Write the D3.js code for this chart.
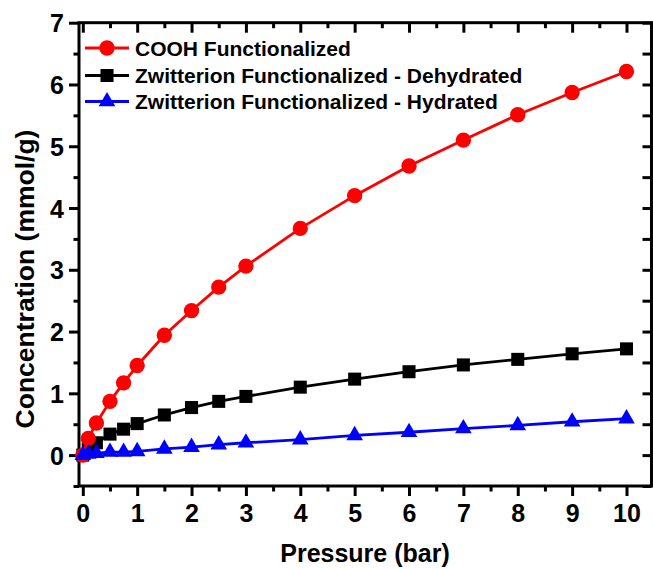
<!DOCTYPE html>
<html>
<head>
<meta charset="utf-8">
<script src="https://cdn.jsdelivr.net/npm/d3@7"></script>
<style>
  html, body { margin: 0; padding: 0; background: #fff; }
  svg { display: block; }
  text { font-family: "Liberation Sans", Arial, sans-serif; font-weight: bold; fill: #000; }
</style>
</head>
<body>
<svg id="chart" width="653" height="569"></svg>
<script>
// Adsorption isotherms: concentration vs pressure
const pressure = [0, 0.1, 0.25, 0.5, 0.75, 1, 1.5, 2, 2.5, 3, 4, 5, 6, 7, 8, 9, 10];
const coohFunctionalized = [0, 0.27, 0.52, 0.87, 1.17, 1.45, 1.94, 2.34, 2.72, 3.06, 3.67, 4.20, 4.68, 5.10, 5.51, 5.87, 6.21];
const zwitterionDehydrated = [0, 0.10, 0.20, 0.34, 0.42, 0.51, 0.65, 0.77, 0.87, 0.95, 1.10, 1.23, 1.35, 1.46, 1.55, 1.64, 1.72];
const zwitterionHydrated = [0, 0.02, 0.03, 0.05, 0.05, 0.06, 0.10, 0.13, 0.17, 0.20, 0.25, 0.32, 0.37, 0.43, 0.48, 0.54, 0.59];

const seriesNames = [
  "COOH Functionalized",
  "Zwitterion Functionalized - Dehydrated",
  "Zwitterion Functionalized - Hydrated"
];

const xDomain = [-0.07, 10.46];
const yDomain = [-0.5, 7];
const xMajorTicks = [0, 1, 2, 3, 4, 5, 6, 7, 8, 9, 10];
const xMinorTicks = [0.5, 1.5, 2.5, 3.5, 4.5, 5.5, 6.5, 7.5, 8.5, 9.5];
const yMajorTicks = [0, 1, 2, 3, 4, 5, 6, 7];
const yMinorTicks = [-0.5, 0.5, 1.5, 2.5, 3.5, 4.5, 5.5, 6.5];
const xTitle = "Pressure (bar)";
const yTitle = "Concentration (mmol/g)";

const svg = d3.select("#chart");
const plot = { left: 79, right: 651.5, top: 22.7, bottom: 486 };

const x = d3.scaleLinear().domain(xDomain).range([plot.left, plot.right]);
const y = d3.scaleLinear().domain(yDomain).range([plot.bottom, plot.top]);

const AXIS_W = 3;
const MAJOR = 10, MINOR = 5.5;

function styleAxis(g) {
  g.select(".domain").remove();
  g.selectAll(".tick line").attr("stroke", "#000").attr("stroke-width", AXIS_W);
  g.selectAll(".tick text").remove();
}

// bottom axis: outward ticks with labels
const bottomMajor = svg.append("g")
  .attr("transform", `translate(0,${plot.bottom})`)
  .call(d3.axisBottom(x).tickValues(xMajorTicks).tickSize(MAJOR).tickFormat(d3.format("d")));
bottomMajor.select(".domain").remove();
bottomMajor.selectAll(".tick line").attr("stroke", "#000").attr("stroke-width", AXIS_W);
bottomMajor.selectAll(".tick text")
  .attr("y", 35.5).attr("dy", null)
  .style("font-size", "25px");
svg.append("g")
  .attr("transform", `translate(0,${plot.bottom})`)
  .call(d3.axisBottom(x).tickValues(xMinorTicks).tickSize(MINOR).tickFormat(""))
  .call(styleAxis);

// left axis: outward ticks with labels
const leftMajor = svg.append("g")
  .attr("transform", `translate(${plot.left},0)`)
  .call(d3.axisLeft(y).tickValues(yMajorTicks).tickSize(MAJOR).tickFormat(d3.format("d")));
leftMajor.select(".domain").remove();
leftMajor.selectAll(".tick line").attr("stroke", "#000").attr("stroke-width", AXIS_W);
leftMajor.selectAll(".tick text")
  .attr("x", -15).attr("dy", "0.36em")
  .style("font-size", "25px");
svg.append("g")
  .attr("transform", `translate(${plot.left},0)`)
  .call(d3.axisLeft(y).tickValues(yMinorTicks).tickSize(MINOR).tickFormat(""))
  .call(styleAxis);

// top axis: ticks pointing inward
svg.append("g")
  .attr("transform", `translate(0,${plot.top})`)
  .call(d3.axisBottom(x).tickValues(xMajorTicks).tickSize(MAJOR).tickFormat(""))
  .call(styleAxis);
svg.append("g")
  .attr("transform", `translate(0,${plot.top})`)
  .call(d3.axisBottom(x).tickValues(xMinorTicks).tickSize(MINOR).tickFormat(""))
  .call(styleAxis);

// right axis: ticks pointing inward
svg.append("g")
  .attr("transform", `translate(${plot.right},0)`)
  .call(d3.axisLeft(y).tickValues(yMajorTicks).tickSize(MAJOR - 1).tickFormat(""))
  .call(styleAxis);
svg.append("g")
  .attr("transform", `translate(${plot.right},0)`)
  .call(d3.axisLeft(y).tickValues(yMinorTicks).tickSize(MAJOR - 1).tickFormat(""))
  .call(styleAxis);

// frame
svg.append("rect")
  .attr("x", plot.left).attr("y", plot.top)
  .attr("width", plot.right - plot.left).attr("height", plot.bottom - plot.top)
  .attr("fill", "none").attr("stroke", "#000").attr("stroke-width", AXIS_W);

// axis titles
svg.append("text")
  .attr("x", 365).attr("y", 562)
  .attr("text-anchor", "middle")
  .style("font-size", "25px")
  .text(xTitle);
svg.append("text")
  .attr("transform", "translate(34,279) rotate(-90)")
  .attr("text-anchor", "middle")
  .style("font-size", "26.5px")
  .text(yTitle);

// series definitions
const series = [
  { name: seriesNames[0], values: coohFunctionalized, color: "#FF0000", symbol: d3.symbolCircle, size: 185 },
  { name: seriesNames[1], values: zwitterionDehydrated, color: "#000000", symbol: d3.symbolSquare, size: 170 },
  { name: seriesNames[2], values: zwitterionHydrated, color: "#0000FF", symbol: d3.symbolTriangle, size: 120 }
];

const line = d3.line()
  .x((d, i) => x(pressure[i]))
  .y(d => y(d));

// draw order: dehydrated, COOH, hydrated
const drawOrder = [series[1], series[0], series[2]];
drawOrder.forEach(s => {
  const g = svg.append("g");
  g.append("path")
    .attr("d", line(s.values))
    .attr("fill", "none")
    .attr("stroke", s.color)
    .attr("stroke-width", 2.8)
    .attr("stroke-linejoin", "round");
  g.selectAll("path.marker")
    .data(s.values)
    .join("path")
    .attr("class", "marker")
    .attr("transform", (d, i) => `translate(${x(pressure[i])},${y(d)})`)
    .attr("d", d3.symbol().type(s.symbol).size(s.size))
    .attr("fill", s.color);
});

// legend
const legend = svg.append("g");
const legendRows = [48, 75.5, 101.5];
series.forEach((s, i) => {
  const row = legend.append("g").attr("transform", `translate(0,${legendRows[i]})`);
  row.append("line")
    .attr("x1", 85).attr("x2", 129).attr("y1", 0).attr("y2", 0)
    .attr("stroke", s.color).attr("stroke-width", 2.8);
  row.append("path")
    .attr("transform", "translate(107,0)")
    .attr("d", d3.symbol().type(s.symbol).size(s.size))
    .attr("fill", s.color);
  row.append("text")
    .attr("x", 135).attr("y", 7.5)
    .style("font-size", "21px")
    .text(s.name);
});
</script>
</body>
</html>
